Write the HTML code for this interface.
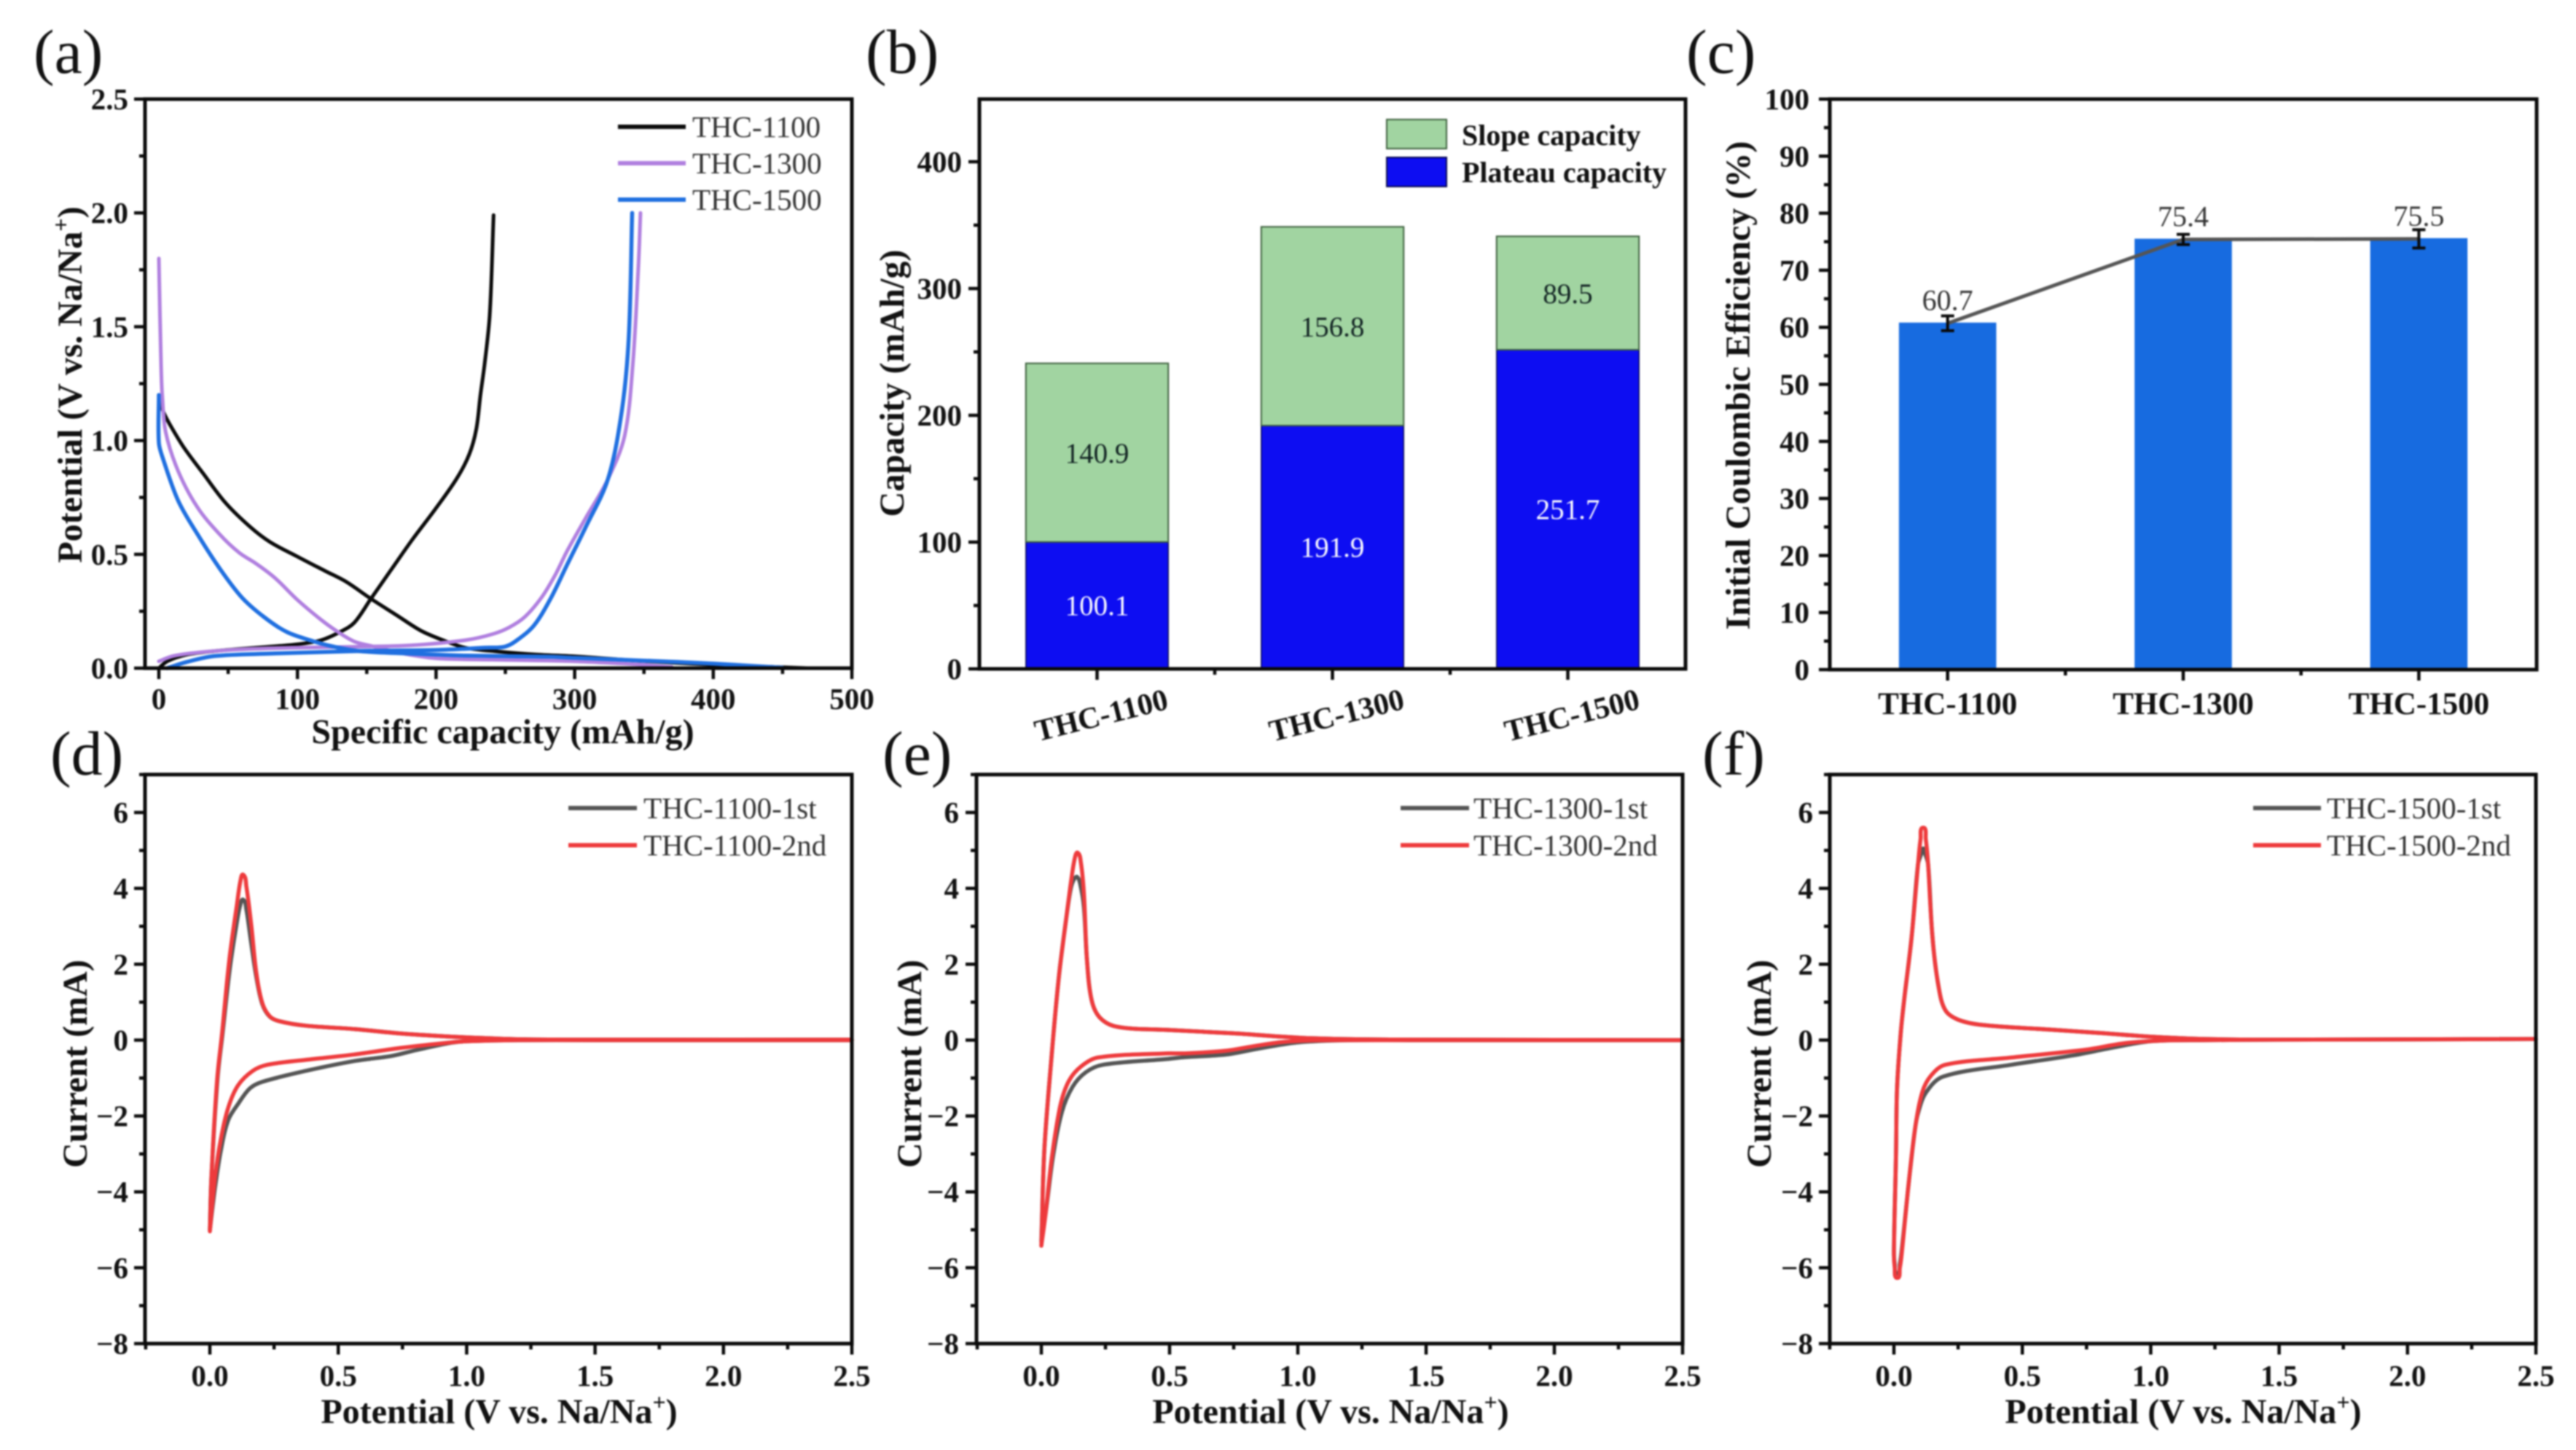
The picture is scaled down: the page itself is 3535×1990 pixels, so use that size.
<!DOCTYPE html>
<html lang="en">
<head>
<meta charset="utf-8">
<title>THC electrochemical performance figure</title>
<style>
html,body{margin:0;padding:0;background:#fff;width:3535px;height:1990px;overflow:hidden}
svg{display:block;filter:blur(1px)}
text{font-family:"Liberation Serif",serif}
</style>
</head>
<body>
<svg id="figure" xmlns="http://www.w3.org/2000/svg" width="3535" height="1990" viewBox="0 0 3535 1990"></svg>
<script>
// ---------- Panel (a): galvanostatic curves ----------
const aXTicks=[0,100,200,300,400,500];
const aXMinor=[50,150,250,350,450];
const aYTicks=[0,0.5,1.0,1.5,2.0,2.5];
const aYMinor=[0.25,0.75,1.25,1.75,2.25];
const a1100DisCap=[0,3,8,18,32,48,66,80,100,120,135,153,171,189,205,221,245,272,300,340,400,450,468];
const a1100DisV=[1.2,1.13,1.07,0.97,0.855,0.727,0.62,0.555,0.49,0.427,0.38,0.305,0.235,0.165,0.123,0.09,0.073,0.06,0.052,0.035,0.015,0.004,0];
const a1100ChgCap=[0,6,20,40,70,100,117,131,141,153,167,183,199,215,224,229,232,235,238.7,241.5];
const a1100ChgV=[0,0.03,0.059,0.075,0.09,0.105,0.123,0.16,0.2,0.305,0.427,0.566,0.695,0.834,0.94,1.05,1.2,1.335,1.55,1.99];
const a1300DisCap=[0,0.8,1.6,2.4,5,14,28,44,58,70,84,100,117,129,141,153,161,181,201,241,300,350,370];
const a1300DisV=[1.8,1.55,1.335,1.2,1.035,0.865,0.705,0.587,0.507,0.46,0.395,0.3,0.213,0.16,0.117,0.098,0.085,0.059,0.043,0.037,0.03,0.015,0.005];
const a1300ChgCap=[0,10,30,60,100,141,181,221,241,253,264,276,286,295,308,324,336,342,346,347.5];
const a1300ChgV=[0.03,0.053,0.07,0.083,0.09,0.094,0.1,0.123,0.15,0.18,0.225,0.31,0.41,0.52,0.66,0.83,1.02,1.34,1.77,2.0];
const a1500DisCap=[0,0,3,14,28,44,60,76,92,109,125,145,181,221,282,300,350,400,450];
const a1500DisV=[1.2,0.99,0.92,0.735,0.587,0.437,0.31,0.224,0.16,0.123,0.096,0.075,0.064,0.055,0.05,0.045,0.033,0.02,0.002];
const a1500ChgCap=[6,20,40,80,141,201,236,250,260,271,283,295,308,324,334,339,341.5];
const a1500ChgV=[0,0.027,0.053,0.064,0.075,0.08,0.09,0.095,0.13,0.19,0.31,0.46,0.62,0.83,1.13,1.45,2.0];

// ---------- Panel (b): stacked capacity bars ----------
const bCategories=["THC-1100","THC-1300","THC-1500"];
const bPlateau=[100.1,191.9,251.7];
const bSlope=[140.9,156.8,89.5];
const bYTicks=[0,100,200,300,400];
const bYMinor=[50,150,250,350];

// ---------- Panel (c): initial coulombic efficiency ----------
const cCategories=["THC-1100","THC-1300","THC-1500"];
const cEfficiency=[60.7,75.4,75.5];
const cErrors=[1.3,0.9,1.6];
const cYTicks=[0,10,20,30,40,50,60,70,80,90,100];
const cYMinor=[5,15,25,35,45,55,65,75,85,95];

// ---------- Panels (d)(e)(f): cyclic voltammetry ----------
const cvXTicks=[0,0.5,1.0,1.5,2.0,2.5];
const cvXMinor=[-0.25,0.25,0.75,1.25,1.75,2.25];
const cvYTicks=[-8,-6,-4,-2,0,2,4,6];
const cvYMinor=[-7,-5,-3,-1,1,3,5,7];

const d1stV=[2.5,1.5,1.2,1.0,0.94,0.8,0.706,0.564,0.375,0.204,0.156,0.11,0.072,0.043,0.02,0,0.006,0.03,0.05,0.078,0.105,0.118,0.13,0.142,0.16,0.18,0.204,0.233,0.27,0.375,0.564,0.752,0.94,1.036,1.226,1.5,2.5];
const d1stI=[0,0,0,-0.03,-0.07,-0.27,-0.42,-0.55,-0.81,-1.1,-1.27,-1.68,-2.1,-2.9,-3.9,-5.0,-3.63,-1.0,0.2,1.9,3.1,3.55,3.7,3.45,2.6,1.7,0.95,0.62,0.5,0.38,0.29,0.17,0.09,0.06,0.02,0.01,0.01];
const d2ndV=[2.5,1.5,1.2,1.0,0.94,0.75,0.56,0.375,0.224,0.167,0.11,0.072,0.043,0.02,0,0.006,0.028,0.048,0.076,0.105,0.119,0.13,0.142,0.162,0.18,0.204,0.233,0.27,0.375,0.564,0.752,0.94,1.036,1.226,1.5,2.5];
const d2ndI=[0,0,0,-0.03,-0.06,-0.2,-0.38,-0.52,-0.65,-0.81,-1.19,-1.77,-2.6,-3.63,-5.04,-3.63,-1.06,0.21,2.13,3.55,4.19,4.36,4.06,2.98,1.82,0.98,0.63,0.5,0.38,0.29,0.17,0.09,0.06,0.02,0.01,0.01];

const e1stV=[2.5,1.5,1.2,1.0,0.85,0.72,0.56,0.486,0.24,0.173,0.122,0.08,0.045,0.02,0,0.012,0.041,0.069,0.097,0.115,0.128,0.14,0.152,0.166,0.178,0.197,0.23,0.296,0.486,0.75,0.94,1.05,1.25,1.5,2.5];
const e1stI=[0,0,0,-0.06,-0.22,-0.38,-0.45,-0.5,-0.65,-0.85,-1.23,-1.9,-3.1,-4.4,-5.3,-2.87,-0.35,1.71,3.2,4.0,4.25,4.3,4.1,3.5,2.1,1.03,0.58,0.35,0.27,0.18,0.09,0.05,0.02,0.01,0];
const e2ndV=[2.5,1.5,1.2,1.05,0.94,0.82,0.72,0.56,0.486,0.22,0.154,0.107,0.074,0.041,0.017,0,0.012,0.041,0.069,0.097,0.117,0.131,0.142,0.154,0.166,0.178,0.197,0.23,0.296,0.486,0.75,0.94,1.05,1.25,1.5,2.5];
const e2ndI=[0,0,0,-0.01,-0.05,-0.17,-0.28,-0.35,-0.35,-0.46,-0.7,-1.08,-1.73,-3.1,-4.56,-5.42,-2.87,-0.35,1.71,3.2,4.24,4.81,4.94,4.69,3.87,2.1,1.03,0.58,0.35,0.27,0.18,0.09,0.05,0.02,0.01,0];

const f1stV=[2.5,1.5,1.2,1.0,0.85,0.7,0.457,0.192,0.125,0.095,0.082,0.054,0.031,0.023,0.013,0.003,0,0.008,0.012,0.026,0.041,0.069,0.094,0.106,0.114,0.122,0.133,0.15,0.173,0.2,0.25,0.343,0.6,0.8,1.0,1.2,1.5,2.5];
const f1stI=[0.03,0.01,0,-0.03,-0.2,-0.4,-0.65,-0.96,-1.38,-1.9,-2.35,-4,-5.5,-5.9,-6.15,-5.9,-5.5,-3.05,-1.32,0.15,1.12,2.72,4.64,4.9,5.05,4.9,4.64,2.72,1.44,0.79,0.54,0.4,0.28,0.19,0.09,0.03,0.01,0.03];
const f2ndV=[2.5,1.5,1.2,1.05,0.9,0.75,0.457,0.2,0.144,0.11,0.082,0.054,0.031,0.023,0.013,0.003,0,0.008,0.012,0.026,0.041,0.069,0.094,0.104,0.114,0.124,0.133,0.15,0.173,0.2,0.25,0.343,0.6,0.8,1.0,1.2,1.5,2.5];
const f2ndI=[0.03,0.01,0,-0.01,-0.08,-0.25,-0.46,-0.65,-0.94,-1.38,-2.35,-4,-5.6,-6,-6.27,-6,-5.6,-3.05,-1.32,0.15,1.12,2.72,4.64,5.3,5.6,5.3,4.64,2.72,1.44,0.79,0.54,0.4,0.28,0.19,0.09,0.03,0.01,0.03];

// ---------- Helpers ----------
const NS="http://www.w3.org/2000/svg";
const root=document.getElementById("figure");
const TICK=4.5;
function add(parent,tag,attrs,name){
  const el=document.createElementNS(NS,tag);
  for(const k in attrs){el.setAttribute(k,attrs[k]);}
  
  
  parent.appendChild(el);
  return el;
}
function scale(d0,d1,r0,r1){return v=>r0+(v-d0)*(r1-r0)/(d1-d0);}
function label(parent,str,x,y,size,weight,anchor,fill,name,rot){
  const a={x:x,y:y,"font-size":size,"font-weight":weight,"text-anchor":anchor,fill:fill};
  if(rot){a.transform="rotate("+rot+" "+x+" "+y+")";}
  const el=add(parent,"text",a,name);
  el.textContent=str;
  return el;
}
function potentialTitle(parent,x,y,name,rot){
  const el=label(parent,"Potential (V vs. Na/Na",x,y,48,"bold","middle","#111",name,rot);
  const sup=add(el,"tspan",{dy:-18,"font-size":32},"superscript-plus");
  sup.textContent="+";
  const close=add(el,"tspan",{dy:18,"font-size":48},"closing-parenthesis");
  close.textContent=")";
  return el;
}
function smoothPath(xs,ys){
  const n=xs.length;
  let d="M"+xs[0].toFixed(1)+" "+ys[0].toFixed(1);
  for(let i=0;i<n-1;i++){
    const i0=Math.max(i-1,0),i3=Math.min(i+2,n-1);
    const seg=Math.hypot(xs[i+1]-xs[i],ys[i+1]-ys[i]);
    const l1=Math.hypot(xs[i+1]-xs[i0],ys[i+1]-ys[i0])||1;
    const l2=Math.hypot(xs[i3]-xs[i],ys[i3]-ys[i])||1;
    const c1x=xs[i]+(xs[i+1]-xs[i0])/l1*seg/3, c1y=ys[i]+(ys[i+1]-ys[i0])/l1*seg/3;
    const c2x=xs[i+1]-(xs[i3]-xs[i])/l2*seg/3, c2y=ys[i+1]-(ys[i3]-ys[i])/l2*seg/3;
    d+="C"+c1x.toFixed(1)+" "+c1y.toFixed(1)+" "+c2x.toFixed(1)+" "+c2y.toFixed(1)+" "+xs[i+1].toFixed(1)+" "+ys[i+1].toFixed(1);
  }
  return d;
}
function curve(parent,sx,sy,xv,yv,color,width,name,sharpTip){
  const px=xv.map(sx), py=yv.map(sy);
  let d;
  if(sharpTip){
    const k=yv.indexOf(Math.min.apply(null,yv));
    d=smoothPath(px.slice(0,k+1),py.slice(0,k+1))+smoothPath(px.slice(k),py.slice(k));
  }else{
    d=smoothPath(px,py);
  }
  add(parent,"path",{d:d,fill:"none",stroke:color,"stroke-width":width,"stroke-linejoin":"round","stroke-linecap":"round"},name);
}
function frame(g,box){
  add(g,"rect",{x:box.left,y:box.top,width:box.right-box.left,height:box.bottom-box.top,fill:"none",stroke:"#0a0a0a","stroke-width":5},"plot-frame");
}
function yAxis(g,box,sy,ticks,minor,fmt,labelRight){
  ticks.forEach(v=>{
    add(g,"line",{x1:box.left-15,x2:box.left,y1:sy(v),y2:sy(v),stroke:"#0a0a0a","stroke-width":TICK},"y-major-tick");
    label(g,fmt(v),labelRight,sy(v)+14,41,"bold","end","#111","y-tick-label");
  });
  minor.forEach(v=>{
    add(g,"line",{x1:box.left-8,x2:box.left,y1:sy(v),y2:sy(v),stroke:"#0a0a0a","stroke-width":TICK},"y-minor-tick");
  });
}
function xAxis(g,box,sx,ticks,minor,fmt,labelBase){
  ticks.forEach(v=>{
    add(g,"line",{x1:sx(v),x2:sx(v),y1:box.bottom,y2:box.bottom+15,stroke:"#0a0a0a","stroke-width":TICK},"x-major-tick");
    if(fmt){label(g,fmt(v),sx(v),labelBase,41,"bold","middle","#111","x-tick-label");}
  });
  minor.forEach(v=>{
    add(g,"line",{x1:sx(v),x2:sx(v),y1:box.bottom,y2:box.bottom+8,stroke:"#0a0a0a","stroke-width":TICK},"x-minor-tick");
  });
}
function legendLine(g,x1,x2,y,color,str,textX,name){
  const entry=add(g,"g",{},name);
  add(entry,"line",{x1:x1,x2:x2,y1:y,y2:y,stroke:color,"stroke-width":6},"legend-line");
  label(entry,str,textX,y+14,41,"normal","start","#333","legend-label");
}
function panelLetter(str,x,y,name){
  label(root,str,x,y,86,"normal","start","#111",name);
}

// ---------- Panel (a) ----------
(function(){
  const box={left:199,right:1169,top:136,bottom:917};
  const g=add(root,"g",{},"panel-a");
  const sx=scale(0,500,218,1169), sy=scale(0,2.5,917,136);
  panelLetter("(a)",46,100,"panel-a-letter");
  curve(g,sx,sy,a1100DisCap,a1100DisV,"#0a0a0a",5,"thc-1100-discharge-line");
  curve(g,sx,sy,a1100ChgCap,a1100ChgV,"#0a0a0a",5,"thc-1100-charge-line");
  curve(g,sx,sy,a1300DisCap,a1300DisV,"#b07fdf",5,"thc-1300-discharge-line");
  curve(g,sx,sy,a1300ChgCap,a1300ChgV,"#b07fdf",5,"thc-1300-charge-line");
  curve(g,sx,sy,a1500DisCap,a1500DisV,"#1f6fe0",5.5,"thc-1500-discharge-line");
  curve(g,sx,sy,a1500ChgCap,a1500ChgV,"#1f6fe0",5.5,"thc-1500-charge-line");
  frame(g,box);
  xAxis(g,box,sx,aXTicks,aXMinor,v=>String(v),973);
  yAxis(g,box,sy,aYTicks,aYMinor,v=>v.toFixed(1),176);
  label(g,"Specific capacity (mAh/g)",690,1020,48,"bold","middle","#111","x-axis-title");
  potentialTitle(g,112,528,"y-axis-title",-90);
  legendLine(g,848,941,174,"#0a0a0a","THC-1100",950,"legend-thc-1100");
  legendLine(g,848,941,224,"#b07fdf","THC-1300",950,"legend-thc-1300");
  legendLine(g,848,941,274,"#1f6fe0","THC-1500",950,"legend-thc-1500");
})();

// ---------- Panel (b) ----------
(function(){
  const box={left:1344,right:2313,top:136,bottom:918};
  const g=add(root,"g",{},"panel-b");
  const sy=scale(0,400,918,222);
  const band=(box.right-box.left)/bCategories.length;
  const cx=i=>box.left+band*(i+0.5);
  const barW=band*0.605;
  panelLetter("(b)",1188,100,"panel-b-letter");
  bCategories.forEach((c,i)=>{
    const top1=sy(bPlateau[i]), top2=sy(bPlateau[i]+bSlope[i]);
    add(g,"rect",{x:cx(i)-barW/2,y:top1,width:barW,height:sy(0)-top1,fill:"#0d0df2",stroke:"#0a0a50","stroke-width":1.5},"bar-plateau-"+c.toLowerCase());
    add(g,"rect",{x:cx(i)-barW/2,y:top2,width:barW,height:top1-top2,fill:"#a1d4a1",stroke:"#3d5f3d","stroke-width":2},"bar-slope-"+c.toLowerCase());
    label(g,bPlateau[i].toFixed(1),cx(i),sy(bPlateau[i]/2)+13,39,"normal","middle","#fff","plateau-value-label");
    label(g,bSlope[i].toFixed(1),cx(i),sy(bPlateau[i]+bSlope[i]/2)+14,39,"normal","middle","#122","slope-value-label");
  });
  frame(g,box);
  const catPos=bCategories.map((c,i)=>i);
  const sBand=i=>cx(i);
  xAxis(g,box,sBand,catPos,[0.5,1.5],null,0);
  bCategories.forEach((c,i)=>{
    label(g,c,cx(i)+9,995,42,"bold","middle","#111","x-category-label",-14);
  });
  yAxis(g,box,sy,bYTicks,bYMinor,v=>String(v),1320);
  label(g,"Capacity (mAh/g)",1240,526,48,"bold","middle","#111","y-axis-title",-90);
  add(g,"rect",{x:1903,y:164,width:82,height:40,fill:"#a1d4a1",stroke:"#3d5f3d","stroke-width":2},"legend-swatch-slope");
  add(g,"rect",{x:1903,y:216,width:82,height:40,fill:"#0d0df2",stroke:"#0a0a50","stroke-width":2},"legend-swatch-plateau");
  label(g,"Slope capacity",2006,199,40,"bold","start","#111","legend-label-slope");
  label(g,"Plateau capacity",2006,250,40,"bold","start","#111","legend-label-plateau");
})();

// ---------- Panel (c) ----------
(function(){
  const box={left:2511,right:3481,top:136,bottom:919};
  const g=add(root,"g",{},"panel-c");
  const sy=scale(0,100,919,136);
  const band=(box.right-box.left)/cCategories.length;
  const cx=i=>box.left+band*(i+0.5);
  const barW=band*0.413;
  panelLetter("(c)",2314,100,"panel-c-letter");
  cCategories.forEach((c,i)=>{
    add(g,"rect",{x:cx(i)-barW/2,y:sy(cEfficiency[i])-1,width:barW,height:sy(0)-sy(cEfficiency[i])+1,fill:"#176be0"},"bar-"+c.toLowerCase());
  });
  add(g,"polyline",{points:cEfficiency.map((v,i)=>cx(i)+","+sy(v)).join(" "),fill:"none",stroke:"#555","stroke-width":5},"efficiency-trend-line");
  cCategories.forEach((c,i)=>{
    const hi=sy(cEfficiency[i]+cErrors[i]), lo=sy(cEfficiency[i]-cErrors[i]);
    add(g,"line",{x1:cx(i),x2:cx(i),y1:hi,y2:lo,stroke:"#0a0a0a","stroke-width":4},"error-bar");
    add(g,"line",{x1:cx(i)-9,x2:cx(i)+9,y1:hi,y2:hi,stroke:"#0a0a0a","stroke-width":4},"error-cap-top");
    add(g,"line",{x1:cx(i)-9,x2:cx(i)+9,y1:lo,y2:lo,stroke:"#0a0a0a","stroke-width":4},"error-cap-bottom");
    label(g,cEfficiency[i].toFixed(1),cx(i),sy(cEfficiency[i])-18,40,"normal","middle","#333","efficiency-value-label");
  });
  frame(g,box);
  xAxis(g,box,cx,cCategories.map((c,i)=>i),[0.5,1.5],null,0);
  cCategories.forEach((c,i)=>{
    label(g,c,cx(i),980,43,"bold","middle","#111","x-category-label");
  });
  yAxis(g,box,sy,cYTicks,cYMinor,v=>String(v),2483);
  label(g,"Initial Coulombic Efficiency (%)",2401,529,48,"bold","middle","#111","y-axis-title",-90);
})();

// ---------- Panels (d)(e)(f) ----------
function cvPanel(o){
  const box={left:o.left,right:o.right,top:1063,bottom:1844};
  const g=add(root,"g",{},o.name);
  const sx=scale(0,2.5,o.zero,o.right), sy=scale(-8,7,1844,1063);
  panelLetter(o.letter,o.letterX,1063,o.name+"-letter");
  curve(g,sx,sy,o.v1,o.i1,"#555",5.5,"cycle-1-line",o.sharp);
  curve(g,sx,sy,o.v2,o.i2,"#ee3a3c",5.5,"cycle-2-line",o.sharp);
  frame(g,box);
  xAxis(g,box,sx,cvXTicks,cvXMinor,v=>v.toFixed(1),1902);
  yAxis(g,box,sy,cvYTicks,cvYMinor,v=>(v<0?"\u2212"+(-v):String(v)),o.labelRight);
  potentialTitle(g,o.titleX,1953,"x-axis-title");
  label(g,"Current (mA)",o.yTitleX,1460,48,"bold","middle","#111","y-axis-title",-90);
  legendLine(g,o.legX1,o.legX2,1109,"#555",o.sample+"-1st",o.legText,"legend-1st-cycle");
  legendLine(g,o.legX1,o.legX2,1160,"#ee3a3c",o.sample+"-2nd",o.legText,"legend-2nd-cycle");
}
cvPanel({name:"panel-d",letter:"(d)",letterX:69,left:199,right:1169,zero:288,labelRight:176,titleX:685,yTitleX:119,legX1:780,legX2:874,legText:883,sample:"THC-1100",sharp:true,v1:d1stV,i1:d1stI,v2:d2ndV,i2:d2ndI});
cvPanel({name:"panel-e",letter:"(e)",letterX:1211,left:1340,right:2309,zero:1429,labelRight:1316,titleX:1826,yTitleX:1264,legX1:1922,legX2:2016,legText:2022,sample:"THC-1300",sharp:true,v1:e1stV,i1:e1stI,v2:e2ndV,i2:e2ndI});
cvPanel({name:"panel-f",letter:"(f)",letterX:2336,left:2511,right:3480,zero:2599,labelRight:2488,titleX:2996,yTitleX:2430,legX1:3092,legX2:3185,legText:3193,sample:"THC-1500",sharp:false,v1:f1stV,i1:f1stI,v2:f2ndV,i2:f2ndI});
</script>
</body>
</html>
